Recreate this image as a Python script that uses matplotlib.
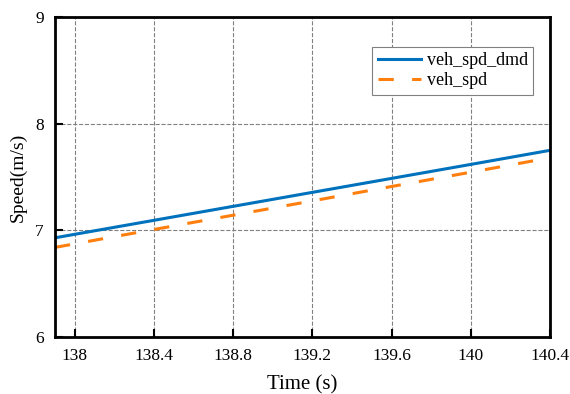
import matplotlib.pyplot as plt
import numpy as np

plt.rcParams['font.family'] = ['Liberation Serif', 'DejaVu Serif']
plt.rcParams['mathtext.fontset'] = 'stix'

# time axis and the two speed traces (m/s)
time_s = [137.9, 138.4, 138.8, 139.2, 139.6, 140.0, 140.4]
veh_spd_dmd = [6.93, 7.094, 7.225, 7.356, 7.487, 7.618, 7.75]
veh_spd = [6.84, 7.008, 7.142, 7.276, 7.411, 7.545, 7.68]

x_ticks = [138, 138.4, 138.8, 139.2, 139.6, 140, 140.4]
x_labels = ['138', '138.4', '138.8', '139.2', '139.6', '140', '140.4']
y_ticks = [6, 7, 8, 9]

fig = plt.figure(figsize=(5.7, 3.94), dpi=100)
ax = fig.add_axes([55 / 570, 57 / 394, 495 / 570, 320 / 394])

ax.plot(time_s, veh_spd_dmd, color='#0072BD', lw=2.2, label='veh_spd_dmd')
ax.plot(time_s, veh_spd, color='#FF7F0E', lw=2.2, ls=(0, (5, 6)), label='veh_spd')

ax.set_xlim(137.9, 140.4)
ax.set_ylim(6, 9)
ax.set_xticks(x_ticks)
ax.set_xticklabels(x_labels)
ax.set_yticks(y_ticks)
ax.tick_params(direction='in', length=6, width=1.5, labelsize=12.5, pad=8)
for s in ax.spines.values():
    s.set_linewidth(2)
ax.grid(True, ls='--', color='gray', lw=0.8)

ax.set_xlabel('Time (s)', fontsize=15, labelpad=8)
ax.set_ylabel('Speed(m/s)', fontsize=14, labelpad=6)

leg = ax.legend(loc='upper right', bbox_to_anchor=(0.966, 0.906), borderaxespad=0,
                fontsize=13, fancybox=False, framealpha=1, edgecolor='gray',
                handlelength=2.4, borderpad=0.3, labelspacing=0.15, handletextpad=0.3)
leg.get_frame().set_linewidth(0.8)

fig.savefig('out.png', dpi=100)
